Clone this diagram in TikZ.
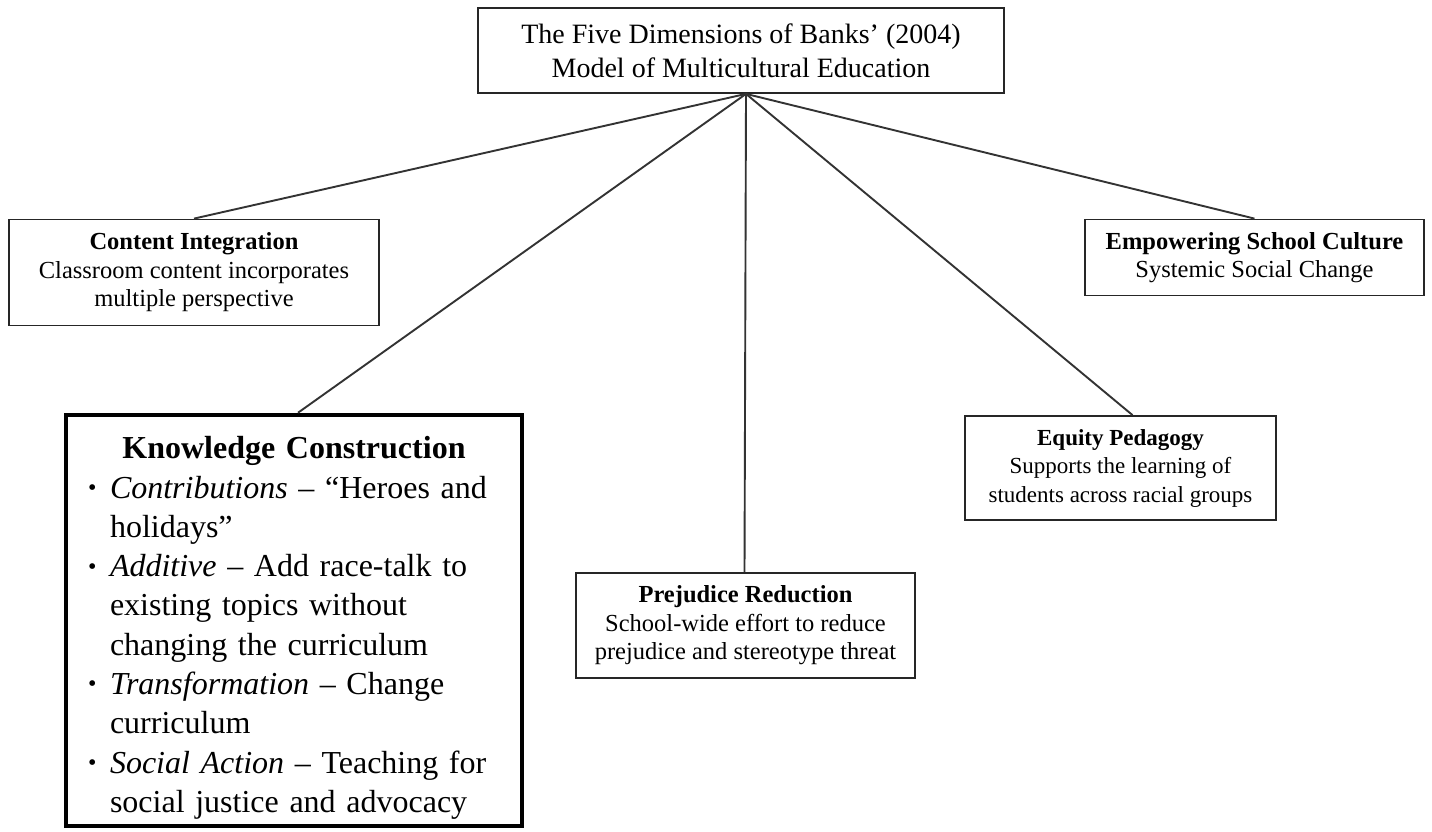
\documentclass[tikz,border=0pt]{standalone}
\usepackage{fontspec}
\usepackage{graphicx}
\setmainfont{Liberation Serif}
\usetikzlibrary{positioning}
\newcommand{\kcbul}{\makebox[22pt][l]{\raisebox{0.08em}{\scalebox{0.75}{\textbullet}}}}
\newcommand{\kcgap}{\hspace*{22pt}}
\tikzset{
  dimbox/.style={draw=black!85,line width=1.8pt,fill=white,align=center,inner sep=0pt,
    font=\fontsize{24.5}{28.5}\selectfont},
  kcbox/.style={draw,line width=4.5pt,fill=white,align=left,inner xsep=22pt,inner ysep=0pt,
    text width=412pt,font=\fontsize{32}{39.3}\selectfont},
  link/.style={draw=black!80,line width=1.9pt}
}
\begin{document}
\begin{tikzpicture}[x=1pt,y=-1pt]
\useasboundingbox (0,0) rectangle (1432,832);
% top node
\node[dimbox,minimum width=526pt,minimum height=85pt,font=\fontsize{28}{34}\selectfont] (banks) at (741,50.5)
  {The Five Dimensions of Banks' (2004)\\Model of Multicultural Education};
% the five dimensions
\node[dimbox,minimum width=370pt,minimum height=106pt] (content) at (194,272.5)
  {\textbf{Content Integration}\\Classroom content incorporates\\multiple perspective};
\node[dimbox,minimum width=339pt,minimum height=76pt] (culture) at (1254.5,257.5)
  {\textbf{Empowering School Culture}\\Systemic Social Change};
\node[dimbox,minimum width=311pt,minimum height=104pt,font=\fontsize{23}{28.5}\selectfont] (equity) at (1120.5,468)
  {\textbf{Equity Pedagogy}\\Supports the learning of\\students across racial groups};
\node[dimbox,minimum width=339pt,minimum height=105pt] (prejudice) at (745.5,625.5)
  {\textbf{Prejudice Reduction}\\School-wide effort to reduce\\prejudice and stereotype threat};
\node[kcbox,minimum height=411pt] (knowledge) at (294,620.5)
  {\rule{0pt}{37pt}\makebox[412pt]{\bfseries Knowledge Construction}\\
   \kcbul\textit{Contributions} -- ``Heroes and\\
   \kcgap holidays''\\
   \kcbul\textit{Additive} -- Add race-talk to\\
   \kcgap existing topics without\\
   \kcgap changing the curriculum\\
   \kcbul\textit{Transformation} -- Change\\
   \kcgap curriculum\\
   \kcbul\textit{Social Action} -- Teaching for\\
   \kcgap social justice and advocacy};
% connectors
\coordinate (hub) at ([xshift=5pt]banks.south);
\draw[link] (hub) -- (content.north);
\draw[link] (hub) -- ([xshift=4pt]knowledge.north);
\draw[link] (hub) -- ([xshift=-1pt]prejudice.north);
\draw[link] (hub) -- ([xshift=12pt]equity.north);
\draw[link] (hub) -- (culture.north);
\end{tikzpicture}
\end{document}
